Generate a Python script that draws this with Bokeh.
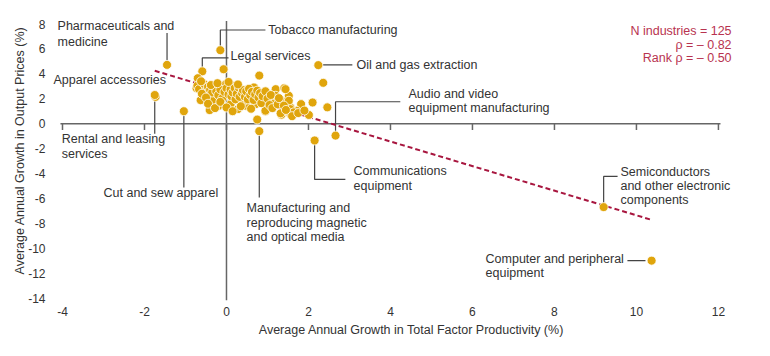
from bokeh.plotting import figure
from bokeh.models import Label, FixedTicker, Range1d
from bokeh.embed import file_html
from bokeh.resources import INLINE

# ---- data ----
labeled_x = [-1.45, -1.73, -1.75, -1.04, -0.15, -0.59, 2.24, 2.66, 2.15, 0.80, 9.20, 10.37]
labeled_y = [4.72, 2.15, 2.30, 1.00, 5.90, 4.20, 4.70, -0.96, -1.35, -0.60, -6.70, -11.00]

cluster_x = [-0.07, 0.80, 2.36, -0.70, -0.73, -0.63, -0.41, -0.31, -0.19, 0.10, 0.28, 0.48, 0.75, 0.95,
             0.68, 0.99, 1.20, 1.41, 1.52, 1.34, 1.15, 1.34, 1.56, 1.82, 2.01, 2.46, 1.71, 1.56,
             -0.71, -0.67, -0.51, -0.35, -0.10, -0.27, 0.26, 0.42, 0.63, 0.71, 0.91, 0.50, 0.34,
             0.18, -0.02, 0.06, 1.44, 1.20, 1.52, 1.56, 1.32, 1.64, 0.95, 0.67,
             -0.55, -0.45, -0.40, -0.35, -0.25, -0.20, -0.15, -0.10, -0.05, 0.00,
             0.05, 0.10, 0.12, 0.15, 0.20, 0.22, 0.25, 0.30, 0.32, 0.38, 0.40, 0.45, 0.48, 0.52, 0.55,
             0.58, 0.62, 0.66, 0.70, 0.75, 0.78, 0.82, 0.85, 0.88, 0.95, 1.00, 1.05, 1.08, 1.12, 1.25,
             1.28, 1.40, 1.45, 1.60, 1.75, 1.90,
             -0.60, -0.50, -0.45, -0.28, -0.15, 0.00, 0.15, 0.35, 0.60,
             -0.62, -0.38, -0.22, 0.05, 0.28, 2.10]
cluster_y = [4.37, 3.86, 3.28, 3.65, 2.85, 1.89, 1.09, 1.84, 1.44, 1.57, 1.17, 1.44, 0.33, 0.99,
             2.85, 2.45, 2.77, 2.85, 2.24, 1.84, 1.79, 0.72, 0.77, 1.57, 0.70, 1.31, 1.04, 1.31,
             3.04, 2.77, 2.64, 1.84, 2.37, 2.91, 2.11, 1.84, 2.11, 1.57, 1.84, 2.37, 2.64,
             3.04, 3.17, 2.64, 2.77, 2.24, 1.84, 1.17, 0.83, 0.91, 1.04, 2.91,
             3.20, 2.95, 2.70, 2.50, 2.60, 2.30, 2.75, 2.05, 2.55, 2.85,
             2.35, 2.75, 2.20, 2.50, 2.85, 1.95, 2.40, 2.90, 2.15, 2.45, 2.70, 2.15, 2.60, 1.95, 2.80,
             2.30, 2.55, 1.90, 2.35, 2.65, 2.10, 2.45, 1.65, 2.20, 2.60, 2.00, 1.50, 2.30, 1.25, 1.55,
             2.05, 1.45, 1.10, 0.60, 0.85, 1.05,
             2.40, 2.10, 1.60, 1.25, 1.75, 1.30, 1.00, 1.40, 1.20,
             3.40, 3.10, 3.25, 3.35, 3.15, 1.70]

xs = labeled_x + cluster_x
ys = labeled_y + cluster_y

fit_intercept = 2.52
fit_slope = -0.988

x_ticks = [-4, -2, 0, 2, 4, 6, 8, 10, 12]
y_ticks = [-14, -12, -10, -8, -6, -4, -2, 0, 2, 4, 6, 8]

stats_lines = ["N industries = 125", "\u03c1 = \u2013 0.82", "Rank \u03c1 = \u2013 0.50"]

# annotation texts: (lines, x, first-line y, line step)
annotations = [
    (["Pharmaceuticals and", "medicine"], -4.12, 7.84, 1.28),
    (["Apparel accessories"], -4.22, 3.52, 1.2),
    (["Rental and leasing", "services"], -4.02, -1.2, 1.2),
    (["Cut and sew apparel"], -3.0, -5.6, 1.2),
    (["Tobacco manufacturing"], 1.02, 7.52, 1.2),
    (["Legal services"], 0.10, 5.44, 1.2),
    (["Oil and gas extraction"], 3.17, 4.72, 1.2),
    (["Audio and video", "equipment manufacturing"], 4.44, 2.4, 1.12),
    (["Communications", "equipment"], 3.10, -3.84, 1.2),
    (["Manufacturing and", "reproducing magnetic", "and optical media"], 0.49, -6.8, 1.16),
    (["Semiconductors", "and other electronic", "components"], 9.61, -3.92, 1.12),
    (["Computer and peripheral", "equipment"], 6.32, -10.88, 1.12),
]

leaders_x = [
    [-1.45, -1.45],
    [-1.75, -1.75],
    [-1.04, -1.04],
    [-0.15, -0.15, 0.95],
    [-0.59, -0.59, 0.05],
    [2.34, 3.07],
    [2.66, 2.66, 4.24],
    [2.15, 2.15, 2.90],
    [0.80, 0.80],
    [9.20, 9.20, 9.54],
    [9.78, 10.22],
]
leaders_y = [
    [4.72, 7.28],
    [2.15, -0.80],
    [1.00, -5.12],
    [5.90, 7.52, 7.52],
    [4.20, 5.28, 5.28],
    [4.72, 4.72],
    [-0.96, 1.76, 1.76],
    [-1.35, -4.48, -4.48],
    [-0.60, -5.92],
    [-6.70, -4.24, -4.24],
    [-11.00, -11.00],
]

FONT = "Liberation Sans"
TXT = "#333333"

p = figure(width=770, height=356, output_backend="svg", toolbar_location=None,
           x_range=Range1d(-4.244, 13.27), y_range=Range1d(-14.2, 9.89),
           min_border_left=52, min_border_right=0, min_border_top=0, min_border_bottom=56)
p.outline_line_color = None
p.grid.visible = False
p.background_fill_color = "white"

for ax in (p.xaxis[0], p.yaxis[0]):
    ax.axis_line_color = None
    ax.major_tick_line_color = None
    ax.minor_tick_line_color = None
    ax.major_label_text_font = FONT
    ax.major_label_text_font_size = "12px"
    ax.major_label_text_color = TXT
    ax.axis_label_text_font = FONT
    ax.axis_label_text_font_size = "12.5px"
    ax.axis_label_text_font_style = "normal"
    ax.axis_label_text_color = TXT

p.xaxis.ticker = FixedTicker(ticks=x_ticks)
p.yaxis.ticker = FixedTicker(ticks=y_ticks)
p.xaxis.major_label_overrides = {v: str(v) for v in x_ticks}
p.yaxis.major_label_overrides = {v: str(v) for v in y_ticks}
p.xaxis.axis_label = "Average Annual Growth in Total Factor Productivity (%)"
p.yaxis.axis_label = "Average Annual Growth in Output Prices (%)"
p.xaxis.major_label_standoff = 0
p.xaxis.axis_label_standoff = 4
p.yaxis.major_label_standoff = 1
p.yaxis.axis_label_standoff = -2

# zero lines
zx0, zx1 = x_ticks[0] - 0.05, x_ticks[-1] + 0.05
zy0, zy1 = y_ticks[0] - 0.2, y_ticks[-1] + 0.25
p.line([zx0, zx1], [0, 0], line_color="#666666", line_width=1.5)
p.line([0, 0], [zy0, zy1], line_color="#666666", line_width=1.5)
# tick marks on the zero line
p.segment(x0=x_ticks, y0=[0] * len(x_ticks), x1=x_ticks, y1=[-0.5] * len(x_ticks),
          line_color="#666666", line_width=1.5)

# leaders
p.multi_line(xs=leaders_x, ys=leaders_y, line_color="#444444", line_width=1.2)

# regression line
fx = [min(xs), max(xs)]
fy = [fit_intercept + fit_slope * v for v in fx]
p.line(fx, fy, line_color="#A8163F", line_width=2, line_dash="5 3")

# points
p.scatter(xs, ys, size=9, fill_color="#E0A50C", line_color="white", line_width=0.8)

# annotation labels
for lines, lx, ly, step in annotations:
    for i, t in enumerate(lines):
        p.add_layout(Label(x=lx, y=ly - i * step, text=t, text_font=FONT, text_font_size="12.5px",
                           text_color=TXT, text_baseline="middle", text_align="left"))

for i, t in enumerate(stats_lines):
    p.add_layout(Label(x=12.32, y=7.44 - i * 1.1, text=t, text_font=FONT, text_font_size="12.5px",
                       text_color="#B8334F", text_baseline="middle", text_align="right"))

open("out.html", "w").write(file_html(p, INLINE))
